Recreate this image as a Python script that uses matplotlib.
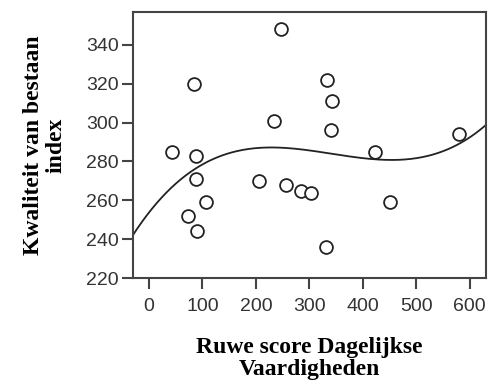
import numpy as np
import matplotlib.pyplot as plt

# Raw scores (daily skills) vs quality of life index
ruwe_score = [43, 85, 88, 88, 107, 73, 89, 205, 234, 248, 257, 284, 303,
              333, 343, 340, 331, 423, 451, 580]
kwaliteit = [285, 320, 283, 271, 259, 252, 244, 270, 301, 348, 268, 265, 264,
             322, 311, 296, 236, 285, 259, 294]

x_ticks = [0, 100, 200, 300, 400, 500, 600]
y_ticks = [220, 240, 260, 280, 300, 320, 340]

fig = plt.figure(figsize=(4.89, 3.89), dpi=100)
ax = fig.add_axes([0.272, 0.285, 0.722, 0.685])

# cubic fit line
coef = np.polyfit(ruwe_score, kwaliteit, 3)
xs = np.linspace(-30, 631, 300)
ax.plot(xs, np.polyval(coef, xs), color='#222222', lw=1.3)

ax.scatter(ruwe_score, kwaliteit, s=85, facecolors='white', edgecolors='#222222',
           linewidths=1.3, zorder=3)

ax.set_xlim(-30, 631)
ax.set_ylim(220, 357)
ax.set_xticks(x_ticks)
ax.set_yticks(y_ticks)
for sp in ax.spines.values():
    sp.set_color('#444444')
    sp.set_linewidth(1.5)
ax.tick_params(direction='out', length=8, width=1.5, color='#444444',
               labelsize=14, pad=2)
ax.tick_params(axis='x', pad=6)
for lab in ax.get_xticklabels() + ax.get_yticklabels():
    lab.set_family('Liberation Sans')
    lab.set_color('#333333')

ax.set_xlabel('Ruwe score Dagelijkse\nVaardigheden', family='Liberation Serif',
              fontweight='bold', fontsize=17, linespacing=1.05, labelpad=16)
ax.set_ylabel('Kwaliteit van bestaan\nindex', family='Liberation Serif',
              fontweight='bold', fontsize=17, linespacing=1.15, labelpad=14)

fig.savefig('out.png', dpi=100)
